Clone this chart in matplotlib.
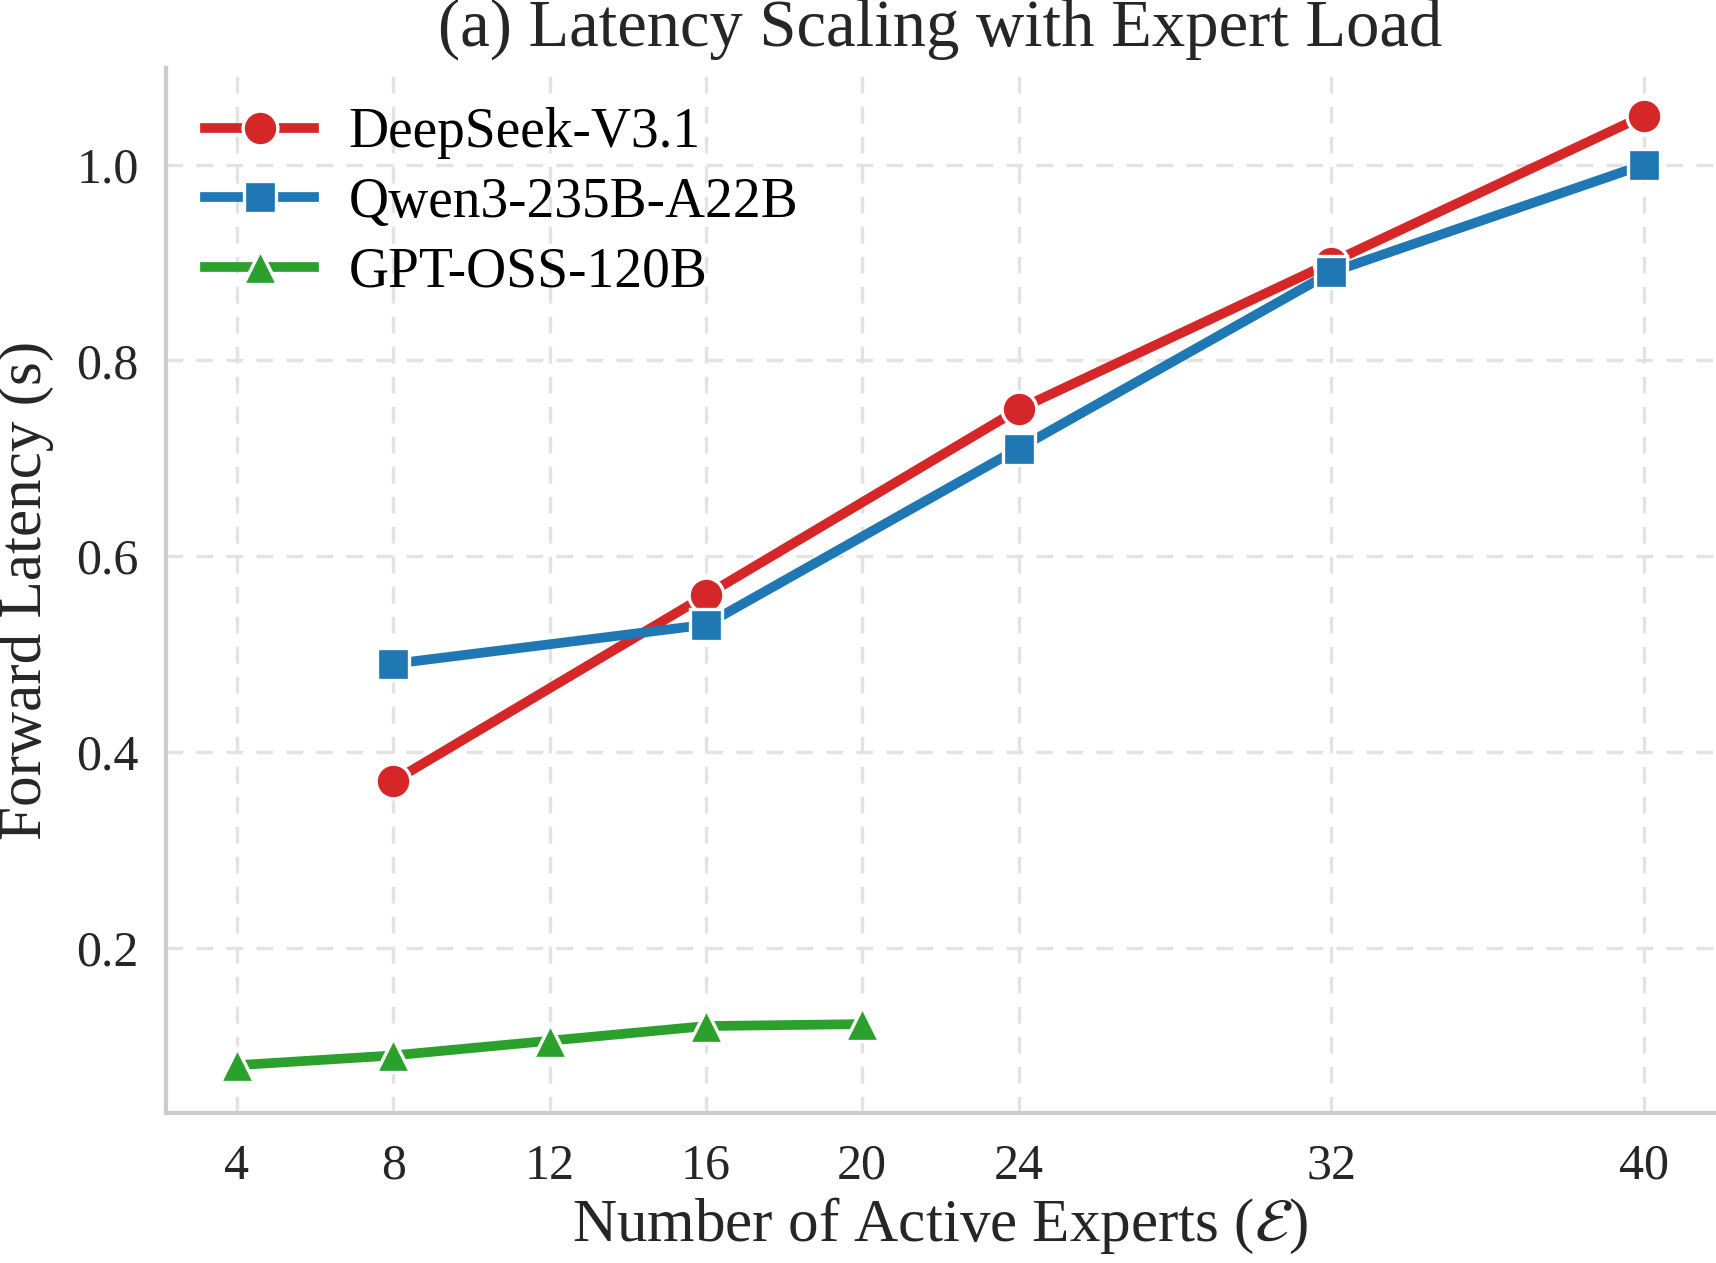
import numpy as np
import matplotlib
matplotlib.use("Agg")
import matplotlib.pyplot as plt

# datos
experts_ds = [8, 16, 24, 32, 40]
lat_ds = [0.37, 0.56, 0.75, 0.90, 1.05]
experts_qw = [8, 16, 24, 32, 40]
lat_qw = [0.49, 0.53, 0.71, 0.89, 1.00]
experts_gpt = [4, 8, 12, 16, 20]
lat_gpt = [0.08, 0.09, 0.105, 0.12, 0.122]
xticks = [4, 8, 12, 16, 20, 24, 32, 40]

plt.rcParams['font.family'] = ['Liberation Serif', 'DejaVu Serif']
plt.rcParams['mathtext.fontset'] = 'stix'

fig = plt.figure(figsize=(8.58, 6.315), dpi=200)
ax = fig.add_axes([0.097, 0.119, 0.902, 0.827])

ax.plot(experts_ds, lat_ds, color='#d62728', lw=3.5, marker='o', ms=12.5,
        mec='white', mew=1.2, label='DeepSeek-V3.1', zorder=3)
ax.plot(experts_qw, lat_qw, color='#1f77b4', lw=3.5, marker='s', ms=11.5,
        mec='white', mew=1.2, label='Qwen3-235B-A22B', zorder=3)
ax.plot(experts_gpt, lat_gpt, color='#2ca02c', lw=3.5, marker='^', ms=12.5,
        mec='white', mew=1.2, label='GPT-OSS-120B', zorder=3)

ax.set_xticks(xticks)
ax.set_yticks([0.2, 0.4, 0.6, 0.8, 1.0])
ax.tick_params(labelsize=18, colors='#262626', length=0)
ax.tick_params(axis='x', pad=11)
ax.tick_params(axis='y', pad=10)
ax.grid(True, ls='--', color='#e3e3e3', lw=1.2, dashes=(5, 4))
ax.set_axisbelow(True)
for s in ['top', 'right']:
    ax.spines[s].set_visible(False)
for s in ['left', 'bottom']:
    ax.spines[s].set_color('#cccccc')
    ax.spines[s].set_linewidth(1.5)

ax.set_xlabel(r'Number of Active Experts ($\mathcal{E}$)', fontsize=22,
              color='#262626', labelpad=2)
ax.set_ylabel('Forward Latency (s)', fontsize=22, color='#262626', labelpad=8)
ax.set_title('(a) Latency Scaling with Expert Load', fontsize=24,
             color='#262626', pad=8)

ax.legend(loc='upper left', frameon=False, fontsize=20, handlelength=1.95,
          handletextpad=0.63, borderaxespad=0.3, labelspacing=0.32,
          borderpad=0.4)

fig.savefig('out.png', dpi=200)
